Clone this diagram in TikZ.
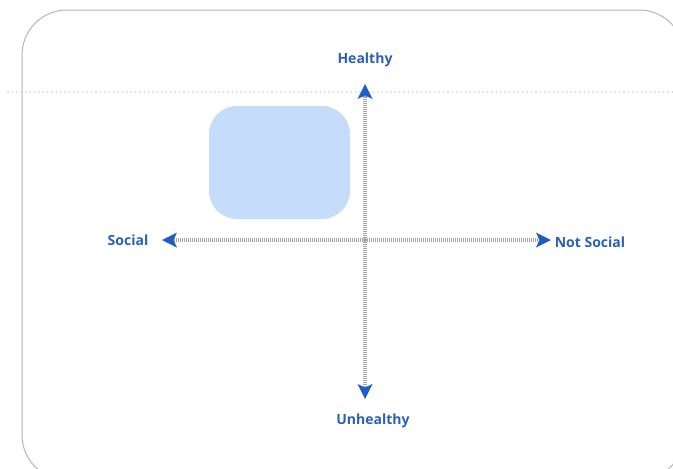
\documentclass[tikz,border=0pt]{standalone}
\usepackage{fontspec}
\setmainfont{Open Sans}
\usetikzlibrary{arrows.meta}
\definecolor{axisblue}{HTML}{2B5FB8}
\definecolor{tipblue}{HTML}{1F5CC4}
\definecolor{panelblue}{HTML}{C5DDFA}
\definecolor{frameGray}{HTML}{B4B4B4}
\definecolor{guideblue}{HTML}{B3CBE8}
\begin{document}
\begin{tikzpicture}[x=1pt,y=-1pt,
  axislabel/.style={font=\bfseries\fontsize{14}{16}\selectfont, text=axisblue, inner sep=1pt},
  axisline/.style={draw=gray!70, line width=4pt, dash pattern=on 1pt off 1pt,
    -{Stealth[length=15pt,width=15pt,inset=3.5pt,fill=tipblue,color=tipblue,line width=0pt]},
    shorten >=0pt},
]
\useasboundingbox (0,0) rectangle (673,469);
\begin{scope}
  \clip (0,0) rectangle (673,469);
  % outer card
  \draw[frameGray, line width=1pt, rounded corners=45pt] (22,10) rectangle (684,480);
\end{scope}
% dotted guide
\coordinate (gl) at (8,92);
\coordinate (gr) at (673,92);
\draw[guideblue, line width=1.6pt, line cap=round, dash pattern=on 0pt off 4.4pt] (gl) -- (gr);
% highlighted quadrant
\node[fill=panelblue, rounded corners=28pt, minimum width=141pt, minimum height=113pt, inner sep=0pt] (panel) at (279.5,162.5) {};
% axes
\coordinate (c) at (365,240);
\coordinate (top) at (365,84);
\coordinate (bot) at (365,399);
\coordinate (left) at (162,240);
\coordinate (right) at (551,240);
\draw[axisline] (c) -- (top);
\draw[axisline] (c) -- (bot);
\draw[axisline] (c) -- (left);
\draw[axisline] (c) -- (right);
% labels
\node[axislabel] (healthy) at (365,60) {Healthy};
\node[axislabel] (unhealthy) at (373,421) {Unhealthy};
\node[axislabel] (social) at (128,240) {Social};
\node[axislabel] (notsocial) at (590,242) {Not Social};
\end{tikzpicture}
\end{document}
